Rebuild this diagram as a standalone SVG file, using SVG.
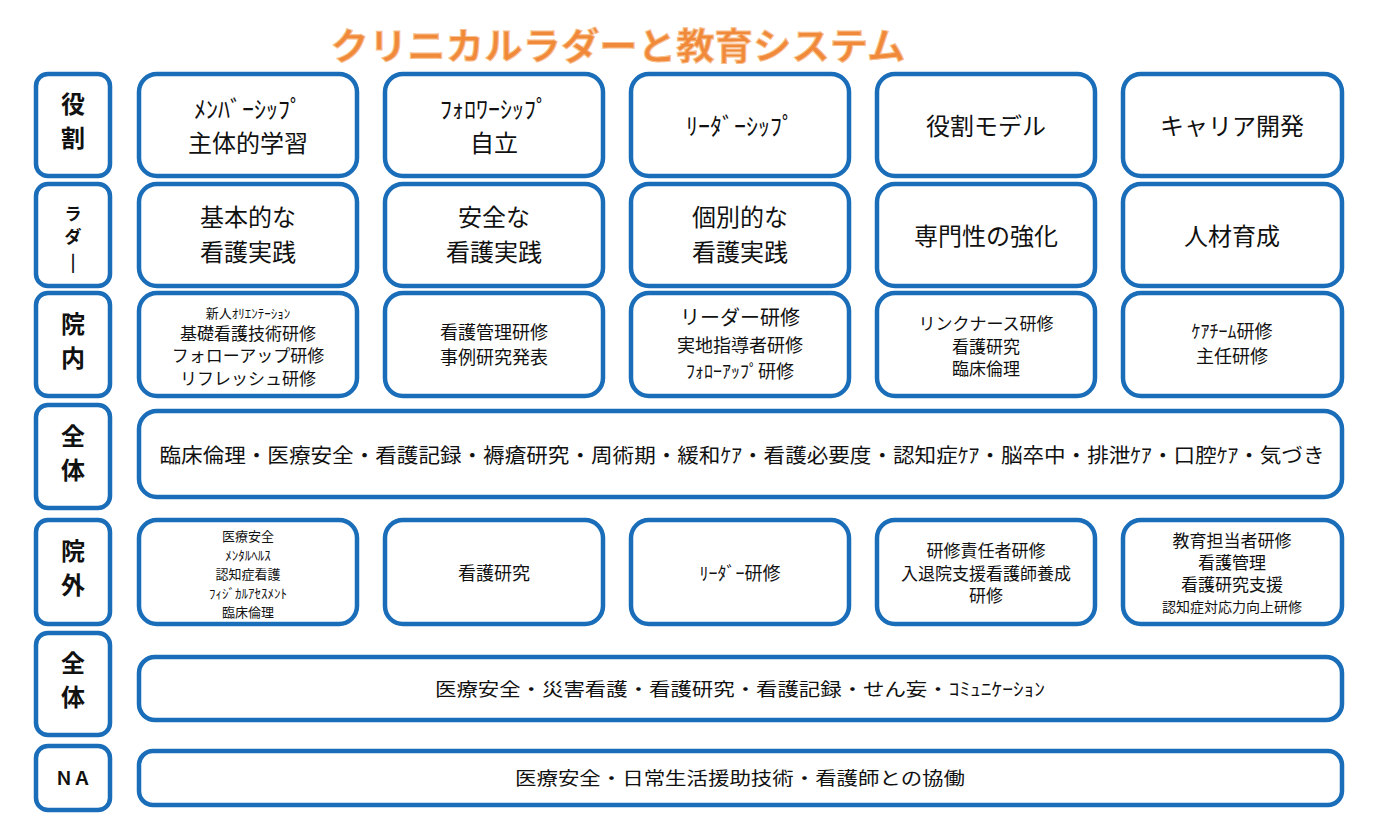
<svg xmlns="http://www.w3.org/2000/svg" width="1384" height="832" viewBox="0 0 1384 832">
<style>
rect{fill:#fff;stroke:#1A6DB8;stroke-width:4.5}
text{font-family:"Noto Sans CJK JP","Noto Sans",sans-serif;fill:#111;text-anchor:middle}
.l{font-size:24px;font-weight:bold}
.b{font-size:24px}
.m{font-size:18px}
.d{font-size:17px}
.s{font-size:13px}
.t{font-size:37px;font-weight:bold;fill:#F08A3A;stroke:#F8C090;stroke-width:1}
</style>
<rect width="1384" height="832" style="fill:#fff;stroke:none"/>
<text class="t" x="618" y="60" textLength="575" lengthAdjust="spacingAndGlyphs">クリニカルラダーと教育システム</text>
<g id="labels">
<rect x="36" y="74" width="74" height="102" rx="12"/><text class="l" x="73" y="113">役</text><text class="l" x="73" y="147">割</text>
<rect x="36" y="184" width="74" height="102" rx="12"/><text class="d" x="73" y="220" style="font-weight:bold">ラ</text><text class="d" x="73" y="243" style="font-weight:bold">ダ</text><text class="d" x="73" y="268" style="font-weight:bold">|</text>
<rect x="36" y="293" width="74" height="103" rx="12"/><text class="l" x="73" y="333">院</text><text class="l" x="73" y="367">内</text>
<rect x="36" y="405" width="74" height="103" rx="12"/><text class="l" x="73" y="445">全</text><text class="l" x="73" y="479">体</text>
<rect x="36" y="520" width="74" height="104" rx="12"/><text class="l" x="73" y="560">院</text><text class="l" x="73" y="594">外</text>
<rect x="36" y="633" width="74" height="102" rx="12"/><text class="l" x="73" y="672">全</text><text class="l" x="73" y="706">体</text>
<rect x="36" y="746" width="74" height="64" rx="12"/><text class="m" x="73" y="785" style="font-weight:bold">ＮＡ</text>
</g>
<g id="row1">
<rect x="139" y="74" width="218" height="102" rx="18"/><text class="b" x="248" y="118">ﾒﾝﾊﾞｰｼｯﾌﾟ</text><text class="b" x="248" y="152">主体的学習</text>
<rect x="385" y="74" width="218" height="102" rx="18"/><text class="b" x="494" y="118">ﾌｫﾛﾜｰｼｯﾌﾟ</text><text class="b" x="494" y="152">自立</text>
<rect x="631" y="74" width="218" height="102" rx="18"/><text class="b" x="740" y="135">ﾘｰﾀﾞｰｼｯﾌﾟ</text>
<rect x="877" y="74" width="218" height="102" rx="18"/><text class="b" x="986" y="135">役割モデル</text>
<rect x="1123" y="74" width="219" height="102" rx="18"/><text class="b" x="1232" y="135">キャリア開発</text>
</g>
<g id="row2">
<rect x="139" y="184" width="218" height="102" rx="18"/><text class="b" x="248" y="226">基本的な</text><text class="b" x="248" y="261">看護実践</text>
<rect x="385" y="184" width="218" height="102" rx="18"/><text class="b" x="494" y="226">安全な</text><text class="b" x="494" y="261">看護実践</text>
<rect x="631" y="184" width="218" height="102" rx="18"/><text class="b" x="740" y="226">個別的な</text><text class="b" x="740" y="261">看護実践</text>
<rect x="877" y="184" width="218" height="102" rx="18"/><text class="b" x="986" y="245">専門性の強化</text>
<rect x="1123" y="184" width="219" height="102" rx="18"/><text class="b" x="1232" y="245">人材育成</text>
</g>
<g id="row3">
<rect x="139" y="293" width="218" height="103" rx="18"/><text class="s" x="248" y="318">新人ｵﾘｴﾝﾃｰｼｮﾝ</text><text class="d" x="248" y="340">基礎看護技術研修</text><text class="d" x="248" y="362">フォローアップ研修</text><text class="d" x="248" y="385">リフレッシュ研修</text>
<rect x="385" y="293" width="218" height="103" rx="18"/><text class="m" x="494" y="339">看護管理研修</text><text class="m" x="494" y="364">事例研究発表</text>
<rect x="631" y="293" width="218" height="103" rx="18"/><text class="m" x="740" y="325" style="font-size:20px">リーダー研修</text><text class="m" x="740" y="352">実地指導者研修</text><text class="m" x="740" y="378">ﾌｫﾛｰｱｯﾌﾟ研修</text>
<rect x="877" y="293" width="218" height="103" rx="18"/><text class="d" x="986" y="330">リンクナース研修</text><text class="d" x="986" y="353">看護研究</text><text class="d" x="986" y="375">臨床倫理</text>
<rect x="1123" y="293" width="219" height="103" rx="18"/><text class="m" x="1232" y="338">ｹｱﾁｰﾑ研修</text><text class="m" x="1232" y="363">主任研修</text>
</g>
<g id="row4">
<rect x="139" y="411" width="1203" height="86" rx="18"/><text class="m" x="742" y="463" style="font-size:20px" textLength="1165" lengthAdjust="spacingAndGlyphs">臨床倫理・医療安全・看護記録・褥瘡研究・周術期・緩和ｹｱ・看護必要度・認知症ｹｱ・脳卒中・排泄ｹｱ・口腔ｹｱ・気づき</text>
</g>
<g id="row5">
<rect x="139" y="520" width="218" height="104" rx="18"/><text class="s" x="248" y="541">医療安全</text><text class="s" x="248" y="560">ﾒﾝﾀﾙﾍﾙｽ</text><text class="s" x="248" y="579">認知症看護</text><text class="s" x="248" y="598">ﾌｨｼﾞｶﾙｱｾｽﾒﾝﾄ</text><text class="s" x="248" y="617">臨床倫理</text>
<rect x="385" y="520" width="218" height="104" rx="18"/><text class="m" x="494" y="580">看護研究</text>
<rect x="631" y="520" width="218" height="104" rx="18"/><text class="m" x="740" y="580">ﾘｰﾀﾞｰ研修</text>
<rect x="877" y="520" width="218" height="104" rx="18"/><text class="d" x="986" y="557">研修責任者研修</text><text class="d" x="986" y="580">入退院支援看護師養成</text><text class="d" x="986" y="602">研修</text>
<rect x="1123" y="520" width="219" height="104" rx="18"/><text class="d" x="1232" y="547">教育担当者研修</text><text class="d" x="1232" y="569">看護管理</text><text class="d" x="1232" y="591">看護研究支援</text><text class="s" x="1232" y="612" style="font-size:14px">認知症対応力向上研修</text>
</g>
<g id="row6">
<rect x="139" y="657" width="1203" height="63" rx="16"/><text class="m" x="740" y="696" textLength="610" lengthAdjust="spacingAndGlyphs">医療安全・災害看護・看護研究・看護記録・せん妄・ｺﾐｭﾆｹｰｼｮﾝ</text>
</g>
<g id="row7">
<rect x="139" y="751" width="1203" height="54" rx="14"/><text class="m" x="740" y="785" textLength="450" lengthAdjust="spacingAndGlyphs">医療安全・日常生活援助技術・看護師との協働</text>
</g>
<g id="connectors"/>
</svg>
